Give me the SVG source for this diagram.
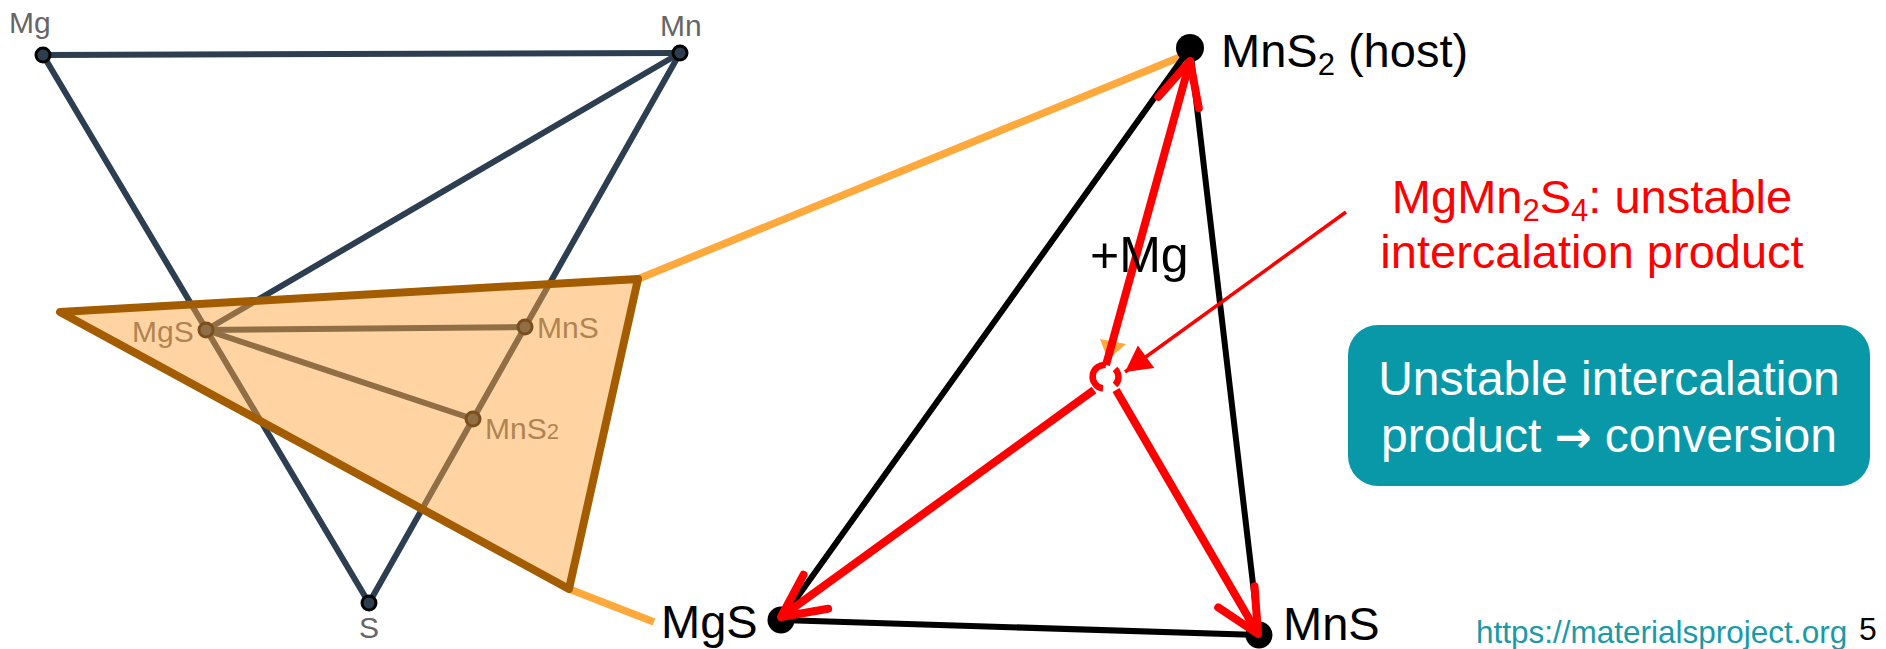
<svg xmlns="http://www.w3.org/2000/svg" width="1886" height="649" viewBox="0 0 1886 649">
<style>
  text { font-family: "Liberation Sans", Arial, sans-serif; }
  .grey { fill: #666666; font-size: 30px; }
  .big { fill: #000000; font-size: 47px; }
  .dark { stroke: #2c3e50; stroke-width: 6; stroke-linecap: round; fill: none; }
  .ldot { fill: #2c3e50; stroke: #000000; stroke-width: 3; }
  .link { stroke: #ffa83c; stroke-width: 7.5; fill: none; }
  .tri { stroke: #000000; stroke-width: 6; stroke-linecap: round; fill: none; }
  .bdot { fill: #000000; }
  .red { stroke: #ff0000; stroke-width: 8; fill: none; stroke-linecap: butt; }
  .redtxt { fill: #ff0000; font-size: 47px; }
  .boxtxt { fill: #ffffff; font-size: 48px; }
</style>
<defs>
  <marker id="vhead" markerUnits="userSpaceOnUse" viewBox="-50 -30 60 60" markerWidth="60" markerHeight="60" refX="0" refY="0" orient="auto" overflow="visible">
    <path d="M-43,-21 L0,0 L-43,21" fill="none" stroke="#ff0000" stroke-width="8" stroke-linecap="round" stroke-linejoin="round"/>
  </marker>
  <marker id="fhead" markerUnits="userSpaceOnUse" viewBox="-30 -16 32 32" markerWidth="32" markerHeight="32" refX="0" refY="0" orient="auto" overflow="visible">
    <path d="M0,0 L-26,-14 L-26,14 z" fill="#ff0000"/>
  </marker>
</defs>

<!-- left phase diagram edges -->
<g id="left-connectors">
  <line class="dark" x1="43" y1="55" x2="680" y2="53"/>
  <line class="dark" x1="43" y1="55" x2="369" y2="603"/>
  <line class="dark" x1="680" y1="53" x2="369" y2="603"/>
  <line class="dark" x1="680" y1="53" x2="206" y2="330"/>
  <line class="dark" x1="206" y1="330" x2="525" y2="327" stroke-width="7"/>
  <line class="dark" x1="206" y1="330" x2="473" y2="419" stroke-width="7"/>
</g>

<g id="node-Mg">
  <circle class="ldot" cx="43" cy="55" r="7"/>
  <text class="grey" x="9" y="33">Mg</text>
</g>
<g id="node-Mn">
  <circle class="ldot" cx="680" cy="53" r="7"/>
  <text class="grey" x="660" y="36">Mn</text>
</g>
<g id="node-S">
  <circle class="ldot" cx="369" cy="603" r="7"/>
  <text class="grey" x="369" y="638" text-anchor="middle">S</text>
</g>
<g id="node-MgS-left">
  <circle class="ldot" cx="206" cy="330" r="7"/>
  <text class="grey" x="132" y="342">MgS</text>
</g>
<g id="node-MnS-left">
  <circle class="ldot" cx="525" cy="327" r="7"/>
  <text class="grey" x="537" y="338">MnS</text>
</g>
<g id="node-MnS2-left">
  <circle class="ldot" cx="473" cy="419" r="7"/>
  <text class="grey" x="485" y="439">MnS<tspan font-size="22">2</tspan></text>
</g>

<!-- orange zoom links -->
<g id="zoom-links">
  <line class="link" x1="638" y1="279" x2="1185" y2="55"/>
  <line class="link" x1="569" y1="589" x2="654" y2="622"/>
</g>

<!-- highlighted plane -->
<g id="plane">
  <polygon points="60,312 638,279 569,589" fill="#ffa53c" fill-opacity="0.48" stroke="#a35c00" stroke-width="8" stroke-linejoin="round"/>
</g>

<!-- right triangle -->
<g id="right-connectors">
  <line class="tri" x1="1190" y1="48" x2="781" y2="620"/>
  <line class="tri" x1="781" y1="620" x2="1259" y2="635"/>
  <line class="tri" x1="1259" y1="635" x2="1190" y2="48"/>
</g>

<g id="node-host">
  <circle class="bdot" cx="1190" cy="48" r="14"/>
  <text class="big" x="1221" y="67">MnS<tspan font-size="31" dy="8">2</tspan><tspan dy="-8"> (host)</tspan></text>
</g>
<g id="node-MgS">
  <circle class="bdot" cx="781" cy="620" r="13.5"/>
  <text class="big" x="661" y="638">MgS</text>
</g>
<g id="node-MnS">
  <circle class="bdot" cx="1259" cy="635" r="13.5"/>
  <text class="big" x="1283" y="640">MnS</text>
</g>

<!-- reaction arrows -->
<g id="reaction-connectors">
  <polygon points="1100,339 1126,344 1108,360" fill="#ffa83c"/>
  <line class="red" x1="1106" y1="365" x2="1190" y2="61" marker-end="url(#vhead)"/>
  <line class="red" x1="1094" y1="390" x2="781" y2="617" marker-end="url(#vhead)"/>
  <line class="red" x1="1116" y1="390" x2="1258" y2="634" marker-end="url(#vhead)"/>
  <line stroke="#ff0000" stroke-width="3.5" x1="1346" y1="212" x2="1125" y2="372" marker-end="url(#fhead)"/>
</g>

<g id="node-MgMn2S4">
  <path d="M1106,365 A11.5,11.5 0 1 0 1103,388.5" fill="#ffffff" stroke="#ff0000" stroke-width="6.5"/>
  <path d="M1115,369 A11,11 0 0 1 1115,385" fill="none" stroke="#ff0000" stroke-width="6.5"/>
</g>

<g id="label-plusMg">
  <text x="1090" y="272" font-size="50" fill="#000000">+Mg</text>
</g>

<g id="label-MgMn2S4">
  <text class="redtxt" x="1592" y="213" text-anchor="middle">MgMn<tspan font-size="31" dy="8">2</tspan><tspan dy="-8">S</tspan><tspan font-size="31" dy="8">4</tspan><tspan dy="-8">: unstable</tspan></text>
  <text class="redtxt" x="1592" y="268" text-anchor="middle">intercalation product</text>
</g>

<g id="box-conversion">
  <rect x="1348" y="325" width="522" height="161" rx="30" ry="30" fill="#0898a8"/>
  <text class="boxtxt" x="1609" y="395" text-anchor="middle">Unstable intercalation</text>
  <text class="boxtxt" x="1609" y="452" text-anchor="middle">product <tspan font-family="DejaVu Sans, sans-serif" font-weight="bold" font-size="44">→</tspan> conversion</text>
</g>

<g id="footer">
  <text x="1476" y="643" font-size="31.5" fill="#1a9aa8">https://materialsproject.org</text>
  <text x="1859" y="640" font-size="32" fill="#000000">5</text>
</g>
</svg>
